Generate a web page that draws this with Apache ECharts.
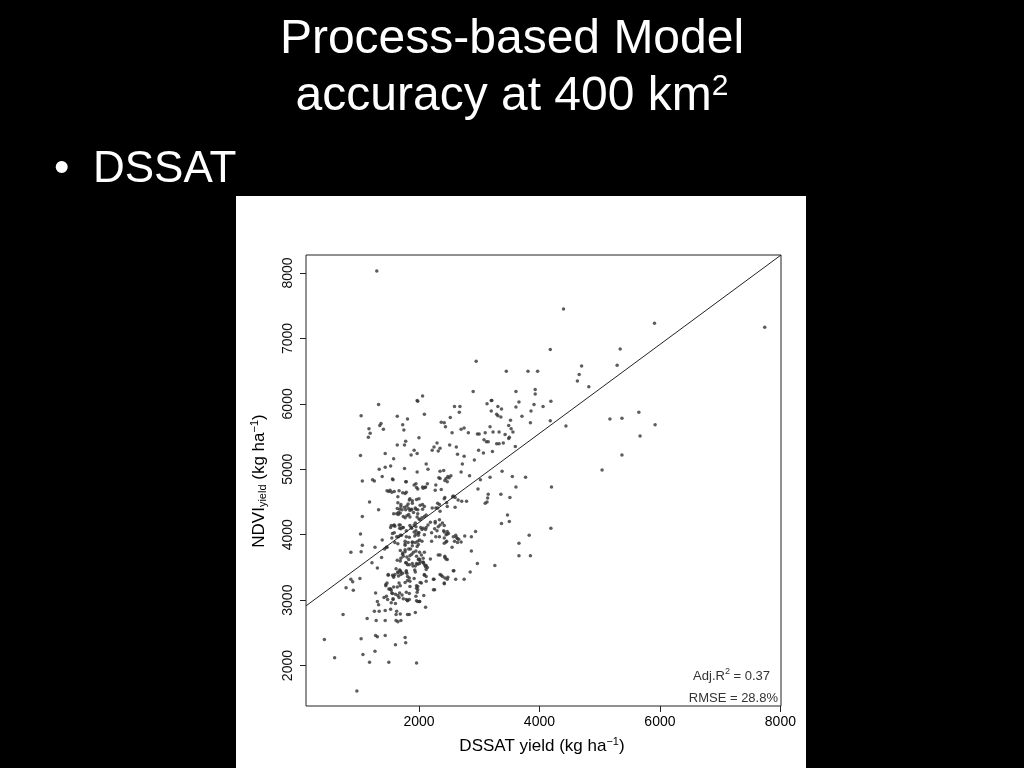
<!DOCTYPE html>
<html><head><meta charset="utf-8">
<script src="https://cdn.jsdelivr.net/npm/echarts@6/dist/echarts.min.js"></script>
<style>html,body{margin:0;padding:0;background:#000;}#c{width:1024px;height:768px;}</style>
</head><body><div id="c"></div><script>
// DSSAT yield (x) vs NDVI yield (y), kg/ha
const yieldPairs = [
[1300,8030],[2950,6650],[3450,6500],[3810,6500],[3970,6500],[2900,6190],[3610,6190],[3930,6220],[3930,6150],[1970,6050],[2060,6120],[3200,6050],[3660,6030],
[4400,7450],[5910,7230],[7740,7170],[4180,6830],[5340,6840],[4700,6580],[5290,6590],[4660,6450],[4630,6350],[4820,6260],[4190,6040],
[4060,5960],[4180,5740],[4440,5660],[5170,5770],[5370,5780],[5650,5870],[5920,5680],[5670,5510],[5370,5220],[5040,4990],[4200,4730],[4190,4100],
[3660,3680],[3850,3680],[3260,3530],[2970,3560],[2850,3430],[2870,3750],[2750,3320],[2610,3320],[2570,3450],[2470,3320],[2430,3340],[2370,3380],[2420,3250],[2350,3690],[2430,3670],[2450,3630],[2190,3630],[2250,3320],[2260,3160],[2120,3290],[2040,3260],[2080,3070],[2010,2980],[2110,2890],[2090,3380],[2120,3470],[2080,3560],[2100,3530],[2110,3510],[2070,3580],[2010,3620],[2020,3590],[2090,3730],[2010,3730],
[870,3730],[1040,3740],[1220,3570],[1380,3650],[1310,3490],[870,3320],[900,3280],[1020,3330],[790,3190],[910,3150],[740,2780],[430,2400],[600,2120],[970,1610],[1040,2410],[1070,2170],[1180,2050],[1270,2220],[1500,2050],[1960,2040],[1140,2720],[1290,2690],[1440,2690],[1280,2460],[1310,2440],[1440,2460],[1610,2320],[1770,2430],[1780,2350],[1620,2690],[1650,2670],[1810,2780],[1940,2810],[1980,2980],[1260,2830],[1340,2830],[1310,2980],[1330,2930],[1280,3110],[1440,2840],[1530,2860],[1630,2830],[1620,2780],[1540,2960],[1570,3010],[1420,3040],[1460,3060],[1550,3110],[1500,3170],[1540,3150],[1650,3070],[1670,3040],[1470,3260],[1450,3240],[1580,3200],[1530,3170],[1670,3260],[1490,3380],[1580,3370],[1600,3390],[1650,3430],[1690,3450],[1700,3390],[1790,3450],[1800,3410],[1690,3600],[1780,3570],[1810,3540],[1730,3700],[1770,3740],[1800,3660],[1830,3620],[1850,3680],[1880,3700],[1930,3460],[1960,3560],[1990,3620],[1900,3520],[1610,2950],[1690,2790],[1700,2690],[1790,3120],[1810,3000],[1790,3010],[1840,2780],[1960,2990],[1970,3120],[1960,3180],[1980,3210],[1770,3270],[1810,3300],[1840,3340],[1920,3330],[1960,3220],
[1330,5990],[1040,5820],[1640,5810],[1810,5770],[1370,5700],[1350,5670],[1170,5620],[1190,5550],[1160,5490],[1410,5610],[1730,5680],[1750,5600],[1980,6040],[1780,5430],[1760,5370],[1640,5370],[1920,5290],[1870,5220],[1970,5240],[1030,5210],[1440,5240],[1580,5160],[1340,5000],[1440,5030],[1530,5050],[1760,5010],[1970,4960],[1060,4820],[1230,4840],[1260,4820],[1390,4890],[1570,4840],[1790,4810],[1920,4760],[1960,4720],[1500,4660],[1590,4660],[1650,4580],[1730,4640],[1770,4630],[1180,4500],[1330,4380],[1060,4280],[1030,4010],[1060,3840],[1270,3810],[1390,3920],[1460,3810],[1580,4320],[1640,4400],[1700,4460],[1720,4380],[1660,4310],[1690,4330],[1840,4530],[1820,4470],[1890,4480],[1780,4380],[1850,4370],[1880,4390],[1940,4410],[1800,4290],[1830,4310],[1850,4270],[1960,4540],[1980,4380],[1980,4320],[1530,4110],[1580,4140],[1600,4130],[1670,4150],[1680,4100],[1730,4110],[1790,4060],[1870,4110],[1920,4150],[1940,4180],[1920,4040],[1950,4010],[1990,4030],[1590,4030],[1660,3970],[1710,3990],[1600,3880],[1650,3860],[1770,3900],[1820,3880],[1890,3890],[1940,3880],[1980,3900],[1430,3780],[1770,3840],[1890,3830],[1970,3820],
[2590,5960],[2680,5960],[2670,5870],[3130,6000],[3210,6050],[3310,5960],[3370,5920],[3200,5890],[3290,5840],[3310,5820],[3360,5800],[3610,5950],[3910,5990],[2090,5840],[2520,5790],[3520,5750],[3490,5670],[3530,5620],[3560,5570],[3710,5810],[3850,5710],[3860,5890],[2370,5720],[2420,5710],[2440,5650],[2550,5560],[2700,5610],[2750,5630],[2820,5560],[2970,5540],[3000,5540],[3100,5560],[3180,5650],[3230,5570],[3330,5570],[3430,5530],[3500,5490],[2300,5400],[2250,5340],[2350,5320],[2320,5280],[2220,5290],[2510,5370],[2620,5340],[2000,5480],[3080,5450],[3120,5420],[3150,5420],[2990,5290],[3070,5250],[3220,5270],[3290,5390],[3330,5390],[3400,5400],[3490,5470],[3600,5350],[2120,5080],[2150,5000],[2350,4970],[2410,4980],[2640,5230],[2750,5200],[2720,5080],[2920,5140],[2700,4960],[2840,4900],[2350,4860],[2450,4860],[2530,4900],[3020,4840],[3180,4880],[3380,4970],[3550,4890],[3770,4880],[3610,4730],[2060,4730],[2100,4720],[2280,4760],[2370,4690],[2470,4810],[2980,4700],[3150,4620],[3140,4560],[3100,4480],[3130,4500],[3360,4620],[3510,4570],[2570,4590],[2600,4570],[2430,4570],[2650,4530],[2710,4510],[2790,4510],[2310,4480],[2340,4460],[2280,4410],[2470,4430],[2600,4420],[3470,4300],[3500,4200],[3370,4170],[3830,3990],[3660,3870],[2940,4050],[2870,3970],[2760,3980],[2700,3890],[2610,3990],[2620,3960],[2640,3940],[2660,3930],[2450,4000],[2470,4010],[2410,4060],[2420,4040],[2270,4180],[2320,4120],[2350,4150],[2260,4090],[2300,4060],[2110,4080],[2070,4100],[2030,4110],[2450,3890],[2420,3870],[2590,3900],[2640,3880],
[1560,4850],[1780,4810],[1950,4780],[1980,4700],[2070,4710],[2110,4730],[2140,4780],[2330,4870],[2430,4830],[2480,4890],[2500,4870],[1470,4670],[1520,4680],[1550,4650],[1670,4670],[1790,4650],[1850,4550],[1890,4520],[2000,4550],[2270,4680],[2420,4550],[2560,4580],[1650,4490],[1700,4430],[1680,4390],[1760,4420],[1800,4440],[1830,4400],[1870,4380],[1950,4390],[2020,4450],[2060,4460],[2090,4430],[2060,4390],[2220,4410],[2310,4410],[2350,4360],[2460,4490],[1630,4320],[1660,4340],[1740,4280],[1770,4260],[1910,4340],[1970,4270],[2000,4240],[2020,4230],[2050,4260],[2090,4280],[2120,4300],[2150,4150],[2120,4110],[2190,4190],[2270,4200],[2340,4230],[2390,4180],[2420,4140],[1540,4140],[1590,4150],[1690,4150],[1740,4110],[1700,4090],[1850,4140],[1880,4100],[1950,4120],[1950,4060],[2000,4030],[2050,4080],[2090,4000],[1990,3990],[1930,3980],[1560,4020],[1550,3950],[1630,3970],[1690,3990],[1790,3970],[1840,3960],[2210,4030],[2280,3970],[2340,3970],[2470,4050],[2490,4020],[2420,3950],[2570,3970],
[1470,3810],[1770,3860],[1890,3880],[1990,3850],[2050,3900],[2010,3920],[2210,3900],[2460,3900],[2550,3810],[1690,3760],[1730,3720],[1770,3770],[1830,3780],[1860,3780],[1910,3730],[1950,3750],[1740,3670],[1700,3640],[1960,3670],[2000,3630],[2040,3690],[2070,3640],[1640,3610],[1790,3570],[1840,3540],[1890,3560],[1940,3520],[1980,3550],[2010,3560],[2070,3580],[2120,3530],[2140,3500],[2320,3690],[2430,3650],[2470,3620],[2580,3450],[1620,3480],[1680,3460],[1700,3430],[1650,3420],[1660,3370],[1730,3410],[1490,3390],[1560,3380],[1580,3350],[1790,3430],[1810,3360],[1940,3430],[2090,3390],[2120,3360],[2240,3320],[2350,3390],[2390,3360],[2420,3260],[2480,3350],[1850,3290],[2020,3270],[1450,3220],[1520,3170],[1640,3200],[1690,3220],[1850,3210],[1980,3160],[2240,3160],[1560,3100],[1610,3090],[1680,3110],[1720,3080],[1840,3100],[1570,3020],[1740,3020],[1810,2990],[1840,3010],[1950,3060],[2010,2980],[1480,3010]
];
const fitLine = [[126, 2913], [8010, 8275]];
const xTicks = [2000, 4000, 6000, 8000];
const yTicks = [2000, 3000, 4000, 5000, 6000, 7000, 8000];
const xRange = [125, 8010];
const yRange = [1382, 8275];

const FONT = "'Liberation Sans', Arial, Helvetica, sans-serif";
const plain = v => String(Math.round(v));
const chart = echarts.init(document.getElementById('c'), null, {renderer: 'canvas'});
chart.setOption({
  backgroundColor: '#000',
  animation: false,
  grid: {left: 306, right: 243, top: 255, bottom: 62, show: true, borderColor: '#222', borderWidth: 1, backgroundColor: 'transparent', z: 1},
  xAxis: {
    type: 'value', min: xRange[0], max: xRange[1],
    axisLine: {show: false},
    splitLine: {show: false},
    axisTick: {show: true, customValues: xTicks, length: 6, lineStyle: {color: '#222'}},
    axisLabel: {customValues: xTicks, formatter: plain, color: '#000', fontSize: 14, fontFamily: FONT, margin: 9}
  },
  yAxis: {
    type: 'value', min: yRange[0], max: yRange[1],
    axisLine: {show: false},
    splitLine: {show: false},
    axisTick: {show: true, customValues: yTicks, length: 6, lineStyle: {color: '#222'}},
    axisLabel: {customValues: yTicks, formatter: plain, color: '#111', fontSize: 14, fontFamily: FONT, rotate: 90, margin: 11}
  },
  series: [
    {type: 'scatter', data: yieldPairs, symbol: 'circle', symbolSize: 3.5, itemStyle: {color: '#333'}, z: 3},
    {type: 'line', data: fitLine, symbol: 'none', lineStyle: {color: '#222', width: 1}, clip: true, z: 4}
  ],
  graphic: [
    {type: 'rect', z: -10, shape: {x: 236, y: 196, width: 570, height: 572}, style: {fill: '#fff'}},
    {type: 'text', z: 10, x: 512, y: 40, style: {text: 'Process-based Model', fill: '#fff', fontSize: 48, fontFamily: FONT, align: 'center', verticalAlign: 'middle'}},
    {type: 'text', z: 10, x: 512, y: 97, style: {text: 'accuracy at 400 km{sup|2}', fill: '#fff', fontSize: 48, fontFamily: FONT, align: 'center', verticalAlign: 'middle', rich: {sup: {fontSize: 30, fill: '#fff', fontFamily: FONT, padding: [0, 0, 20, 0]}}}},
    {type: 'text', z: 10, x: 54, y: 170, style: {text: '•', fill: '#fff', fontSize: 44, fontFamily: FONT, align: 'left', verticalAlign: 'middle'}},
    {type: 'text', z: 10, x: 93, y: 170, style: {text: 'DSSAT', fill: '#fff', fontSize: 44, fontFamily: FONT, align: 'left', verticalAlign: 'middle'}},
    {type: 'text', z: 10, x: 542, y: 746, style: {text: 'DSSAT yield (kg ha{sup|−1})', fill: '#000', fontSize: 17, fontFamily: FONT, align: 'center', verticalAlign: 'middle', rich: {sup: {fontSize: 11, fill: '#000', fontFamily: FONT, padding: [0, 0, 8, 0]}}}},
    {type: 'text', z: 10, x: 259, y: 481, rotation: Math.PI / 2, style: {text: 'NDVI{sub|yield} (kg ha{sup|−1})', fill: '#000', fontSize: 17, fontFamily: FONT, align: 'center', verticalAlign: 'middle', rich: {sub: {fontSize: 11, fill: '#000', fontFamily: FONT, padding: [8, 0, 0, 0]}, sup: {fontSize: 11, fill: '#000', fontFamily: FONT, padding: [0, 0, 8, 0]}}}},
    {type: 'text', z: 10, x: 770, y: 676, style: {text: 'Adj.R{sup|2} = 0.37', fill: '#333', fontSize: 13, fontFamily: FONT, align: 'right', verticalAlign: 'middle', rich: {sup: {fontSize: 9, fill: '#333', fontFamily: FONT, padding: [0, 0, 8, 0]}}}},
    {type: 'text', z: 10, x: 778, y: 698, style: {text: 'RMSE = 28.8%', fill: '#333', fontSize: 13, fontFamily: FONT, align: 'right', verticalAlign: 'middle'}}
  ]
});
</script></body></html>
